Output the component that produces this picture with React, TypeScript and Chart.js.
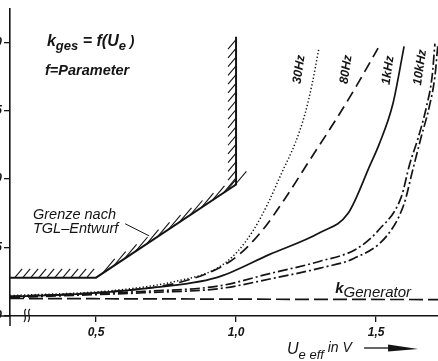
import React, { useEffect, useRef } from "react";
import { Chart, registerables } from "chart.js";

Chart.register(...registerables);

// ---- data (U_e eff in V, k_ges in %) ----
const xTicks = [0.5, 1.0, 1.5];
const yTicks = [0, 0.5, 1.0, 1.5, 2.0];

const u30Hz = [0.193, 0.55, 0.789, 0.932, 1.004, 1.061, 1.114, 1.164, 1.211, 1.246, 1.271, 1.296];
const k30Hz = [0.149, 0.184, 0.255, 0.348, 0.468, 0.624, 0.823, 1.05, 1.262, 1.475, 1.688, 1.957];

const u80Hz = [0.193, 0.55, 0.789, 0.943, 1.014, 1.096, 1.175, 1.264, 1.354, 1.432, 1.507];
const k80Hz = [0.142, 0.177, 0.241, 0.355, 0.454, 0.631, 0.858, 1.142, 1.426, 1.688, 1.957];

const u1kHz = [0.193, 0.43, 0.67, 0.93, 1.12, 1.3, 1.4, 1.48, 1.51, 1.56, 1.6];
const k1kHz = [0.142, 0.16, 0.2, 0.28, 0.45, 0.61, 0.75, 1.11, 1.25, 1.55, 1.97];

const u10kHzA = [0.193, 0.67, 0.94, 1.12, 1.3, 1.43, 1.51, 1.59, 1.62, 1.65, 1.68, 1.7, 1.71];
const k10kHzA = [0.142, 0.18, 0.22, 0.31, 0.4, 0.49, 0.63, 0.87, 1.11, 1.3, 1.53, 1.75, 1.99];

const u10kHzB = [0.193, 0.67, 0.94, 1.12, 1.3, 1.42, 1.54, 1.6, 1.63, 1.66, 1.69, 1.71, 1.72];
const k10kHzB = [0.135, 0.17, 0.2, 0.27, 0.35, 0.42, 0.59, 0.82, 1.06, 1.3, 1.53, 1.75, 1.97];

const uGenerator = [0.193, 0.7, 1.2, 1.721];
const kGenerator = [0.128, 0.125, 0.122, 0.12];

const uGrenze = [0.193, 0.5, 1.0, 1.0];
const kGrenze = [0.28, 0.28, 0.96, 2.04];

const INK = "#141414";
const FAM = '"Liberation Sans", "DejaVu Sans", sans-serif';

const pts = (u: number[], k: number[]) => u.map((x, i) => ({ x, y: k[i] }));
const fmt = (v: number) => v.toFixed(1).replace(".", ",");

type Part = [string, string, number];

function drawParts(ctx: CanvasRenderingContext2D, parts: Part[], x: number, y: number) {
  let cx = x;
  for (const [t, font, dy] of parts) {
    ctx.font = font;
    ctx.fillText(t, cx, y + dy);
    cx += ctx.measureText(t).width;
  }
}

const decor = {
  id: "decor",
  afterDatasetsDraw(chart: any) {
    const ctx: CanvasRenderingContext2D = chart.ctx;
    const xs = chart.scales.x;
    const ys = chart.scales.y;
    const px = (v: number) => xs.getPixelForValue(v);
    const py = (v: number) => ys.getPixelForValue(v);
    const area = chart.chartArea;
    ctx.save();
    ctx.strokeStyle = INK;
    ctx.fillStyle = INK;

    // hatching on the boundary (Grenze)
    const meta = chart.getDatasetMeta(6);
    const p = meta.data.map((e: any) => ({ x: e.x, y: e.y }));
    const ang = (50 * Math.PI) / 180;
    const d = { x: Math.cos(ang), y: -Math.sin(ang) };
    ctx.lineWidth = 1.1;
    for (let i = 0; i < p.length - 1; i++) {
      const a = p[i], b = p[i + 1];
      const dx = b.x - a.x, dy = b.y - a.y;
      const len = Math.hypot(dx, dy);
      const t = { x: dx / len, y: dy / len };
      const n = { x: t.y, y: -t.x };
      let dn = d.x * n.x + d.y * n.y;
      const s = dn >= 0 ? 1 : -1;
      dn = Math.abs(dn);
      const L = 10 / Math.sqrt(dn);
      const step = 7 / Math.sqrt(dn);
      for (let q = step * 0.6; q < len - 2; q += step) {
        const ox = a.x + t.x * q, oy = a.y + t.y * q;
        ctx.beginPath();
        ctx.moveTo(ox, oy);
        ctx.lineTo(ox + s * d.x * L, oy + s * d.y * L);
        ctx.stroke();
      }
    }

    // axis extensions and break mark
    ctx.lineWidth = 1.5;
    ctx.beginPath();
    ctx.moveTo(area.left - 12, area.bottom);
    ctx.lineTo(area.left, area.bottom);
    ctx.moveTo(area.left, area.bottom);
    ctx.lineTo(area.left, area.bottom + 10);
    ctx.stroke();
    ctx.lineWidth = 1.2;
    for (const off of [15, 19]) {
      const bx = area.left + off;
      const by = area.bottom;
      ctx.beginPath();
      ctx.moveTo(bx + 1, by - 7);
      ctx.bezierCurveTo(bx - 3, by - 4, bx + 3, by + 1, bx - 1, by + 6);
      ctx.stroke();
    }

    // leader line
    ctx.lineWidth = 1;
    ctx.beginPath();
    ctx.moveTo(px(0.604), py(0.674));
    ctx.lineTo(px(0.69), py(0.585));
    ctx.stroke();

    // texts
    ctx.textBaseline = "alphabetic";
    ctx.textAlign = "left";
    const bi = (s: number) => `italic bold ${s}px ${FAM}`;
    const it = (s: number) => `italic ${s}px ${FAM}`;
    drawParts(ctx, [["k", bi(16), 0], ["ges", bi(13), 4], [" = f(U", bi(16), 0], ["e", bi(13), 4], [" )", bi(14), 0]], px(0.325), py(1.972));
    drawParts(ctx, [["f=Parameter", bi(14.5), 0]], px(0.318), py(1.759));
    drawParts(ctx, [["Grenze nach", it(14.5), 0]], px(0.275), py(0.71));
    drawParts(ctx, [["TGL–Entwurf", it(14.5), 0]], px(0.275), py(0.605));
    drawParts(ctx, [["k", bi(15), 0], ["Generator", it(15), 4]], px(1.354), py(0.17));

    const rot = [
      ["30Hz", 1.225, 1.801],
      ["80Hz", 1.393, 1.801],
      ["1kHz", 1.543, 1.794],
      ["10kHz", 1.657, 1.816],
    ] as [string, number, number][];
    ctx.textAlign = "center";
    ctx.textBaseline = "middle";
    ctx.font = bi(12.5);
    for (const [t, u, k] of rot) {
      ctx.save();
      ctx.translate(px(u), py(k));
      ctx.rotate((-82 * Math.PI) / 180);
      ctx.fillText(t, 0, 0);
      ctx.restore();
    }

    // axis title
    ctx.textAlign = "left";
    ctx.textBaseline = "alphabetic";
    const tx = px(1.182);
    const ty = area.bottom + 38;
    drawParts(ctx, [["U", it(16), 0], ["e eff", it(13), 5], [" in V", it(14), -2]], tx, ty);
    const ax = px(1.45);
    ctx.lineWidth = 1.3;
    ctx.beginPath();
    ctx.moveTo(ax + 2, ty - 6);
    ctx.lineTo(ax + 30, ty - 6);
    ctx.stroke();
    ctx.beginPath();
    ctx.moveTo(ax + 26, ty - 9.5);
    ctx.lineTo(ax + 56, ty - 5);
    ctx.lineTo(ax + 26, ty - 2.5);
    ctx.closePath();
    ctx.fill();
    ctx.restore();
  },
};

export default function App() {
  const ref = useRef<HTMLCanvasElement | null>(null);
  useEffect(() => {
    if (!ref.current) return;
    const line = (label: string, data: any[], dash: number[], width = 1.7) => ({
      label,
      data,
      borderColor: INK,
      borderWidth: width,
      borderDash: dash,
      pointRadius: 0,
      fill: false,
      tension: 0.4,
      cubicInterpolationMode: "monotone" as const,
    });
    const chart = new Chart(ref.current, {
      type: "line",
      data: {
        datasets: [
          line("30 Hz", pts(u30Hz, k30Hz), [1.3, 2.2], 1.5),
          line("80 Hz", pts(u80Hz, k80Hz), [11, 6]),
          line("1 kHz", pts(u1kHz, k1kHz), []),
          line("10 kHz", pts(u10kHzA, k10kHzA), [10, 3, 2, 3]),
          line("10 kHz (2)", pts(u10kHzB, k10kHzB), [10, 3, 2, 3]),
          line("k Generator", pts(uGenerator, kGenerator), [14, 5]),
          {
            label: "Grenze nach TGL-Entwurf",
            data: pts(uGrenze, kGrenze),
            borderColor: INK,
            borderWidth: 2,
            pointRadius: 0,
            fill: false,
            tension: 0,
          },
        ],
      },
      options: {
        animation: false,
        responsive: false,
        layout: { padding: 0 },
        plugins: { legend: { display: false }, tooltip: { enabled: false } },
        scales: {
          x: {
            type: "linear",
            min: 0.193,
            max: 1.721,
            afterBuildTicks: (s: any) => {
              s.ticks = xTicks.map((v) => ({ value: v }));
            },
            afterFit: (s: any) => {
              s.height = 45;
            },
            grid: { drawOnChartArea: false, drawTicks: true, tickLength: 6, color: INK, lineWidth: 1.3 },
            border: { display: true, color: INK, width: 1.6 },
            ticks: {
              color: INK,
              padding: 3,
              autoSkip: false,
              maxRotation: 0,
              font: { family: FAM, size: 12, style: "italic", weight: "bold" },
              callback: (v: any) => fmt(Number(v)),
            },
          },
          y: {
            type: "linear",
            min: 0,
            max: 2.241,
            afterBuildTicks: (s: any) => {
              s.ticks = yTicks.map((v) => ({ value: v }));
            },
            afterFit: (s: any) => {
              s.width = 40;
            },
            grid: { drawOnChartArea: false, drawTicks: true, tickLength: 6, color: INK, lineWidth: 1.3 },
            border: { display: true, color: INK, width: 1.6 },
            ticks: {
              color: INK,
              padding: 2,
              font: { family: FAM, size: 12, style: "italic", weight: "bold" },
              callback: (v: any) => fmt(Number(v)),
            },
          },
        },
      },
      plugins: [decor],
    });
    return () => chart.destroy();
  }, []);
  return (
    <div style={{ position: "fixed", left: -30, top: 0, width: 468, height: 361, background: "#fff" }}>
      <canvas ref={ref} width={468} height={361} style={{ display: "block" }} />
    </div>
  );
}
